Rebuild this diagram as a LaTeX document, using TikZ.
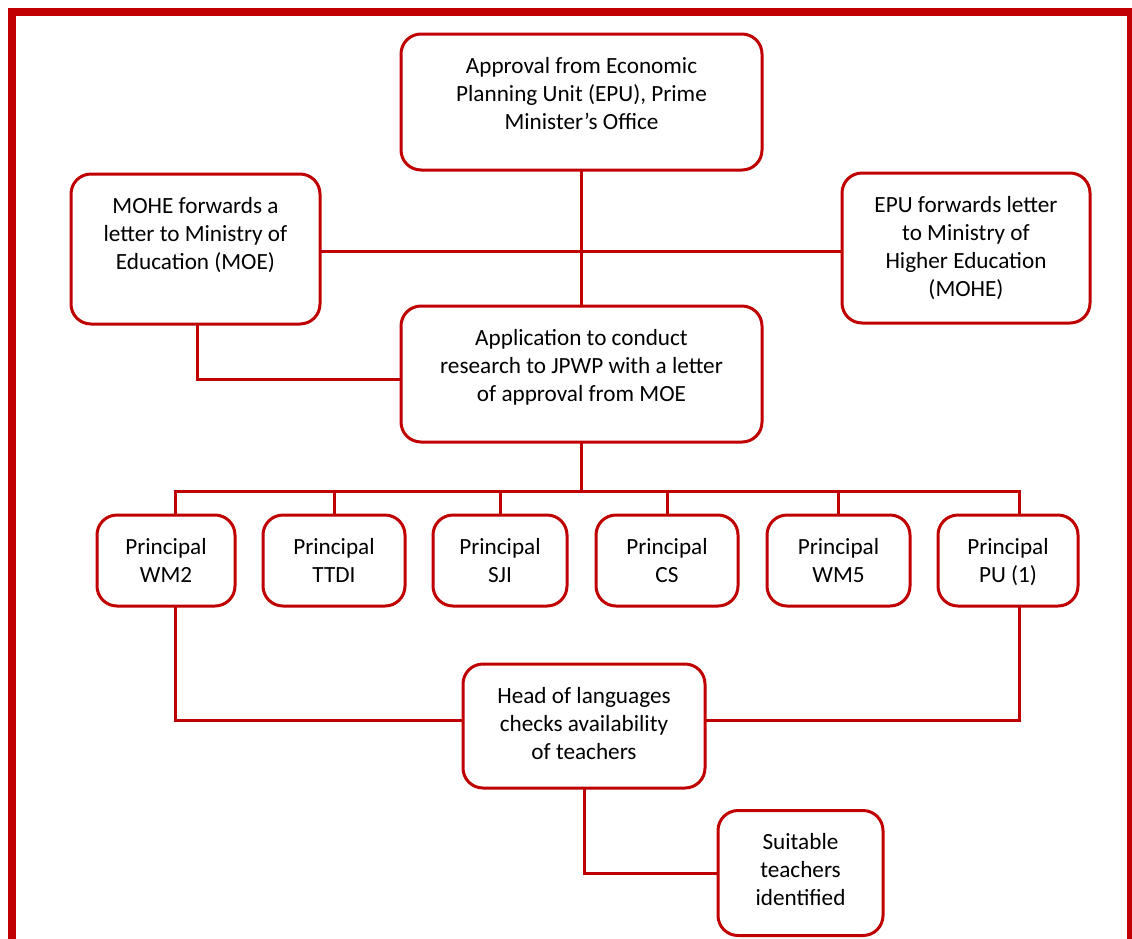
\documentclass[tikz,border=0pt]{standalone}
\usepackage{fontspec}
\usetikzlibrary{calc}
\setmainfont{Carlito}
\definecolor{boxred}{RGB}{192,0,0}
\newcommand{\stagetext}[3]{\parbox[c][#2pt][t]{#1pt}{\centering\rule{0pt}{39pt}#3}}
\tikzset{
  stage/.style={draw=boxred, line width=3pt, rounded corners=20pt, inner sep=0pt,
    outer sep=0pt, fill=white, font=\fontsize{23.2}{28}\selectfont},
  link/.style={draw=boxred, line width=3pt},
}
\begin{document}
\begin{tikzpicture}[x=1pt, y=-1pt]
  \useasboundingbox (0,0) rectangle (1132,938);
  \clip (0,0) rectangle (1132,938);
  % outer frame
  \draw[boxred, line width=8pt] (12,960) -- (12,11.5) -- (1131,11.5) -- (1131,960);

  \node[stage] (approval) at (581.5,102) {\stagetext{361}{136}{Approval from Economic\\ Planning Unit (EPU), Prime\\ Minister's Office}};
  \node[stage] (mohe) at (195.5,249) {\stagetext{249}{150}{MOHE forwards a\\ letter to Ministry of\\ Education (MOE)}};
  \node[stage] (epufwd) at (966,248) {\stagetext{248}{150}{EPU forwards letter\\ to Ministry of\\ Higher Education\\ (MOHE)}};
  \node[stage] (application) at (581.5,374) {\stagetext{361}{136}{Application to conduct\\ research to JPWP with a letter\\ of approval from MOE}};

  % principals
  \foreach \nm/\cx/\bw/\lbl in {wm2/166/138/WM2, ttdi/334/142/TTDI, sji/500/134/SJI,
      cs/667/142/CS, wm5/838.5/143/WM5, pu/1008/140/PU (1)}
    \node[stage] (\nm) at (\cx,560.5) {\stagetext{\bw}{91}{Principal\\ \lbl}};

  \node[stage] (head) at (584,726) {\stagetext{242}{124}{Head of languages\\ checks availability\\ of teachers}};
  \node[stage] (suitable) at (800.5,873) {\stagetext{165}{125}{Suitable\\ teachers\\ identified}};

  \coordinate (busL) at (175,491);
  \coordinate (busR) at (1019,491);

  % connectors
  \draw[link] (approval.south) -- (application.north);
  \draw[link] ($(mohe.east)+(0,2)$) -- ($(epufwd.west)+(0,3)$);
  \draw[link] ($(mohe.south)+(2,0)$) |- ($(application.west)+(0,5)$);
  \draw[link] (application.south) -- (application.south |- busL);
  \draw[link] (busL |- wm2.north) -- (busL) -- (busR) -- (busR |- pu.north);
  \foreach \nm in {ttdi,sji,cs,wm5}
    \draw[link] (\nm.north |- busL) -- (\nm.north);
  \draw[link] (busL |- wm2.south) |- ($(head.west)+(0,-6)$);
  \draw[link] (busR |- pu.south) |- ($(head.east)+(0,-6)$);
  \draw[link] (head.south) |- (suitable.west);
\end{tikzpicture}
\end{document}
